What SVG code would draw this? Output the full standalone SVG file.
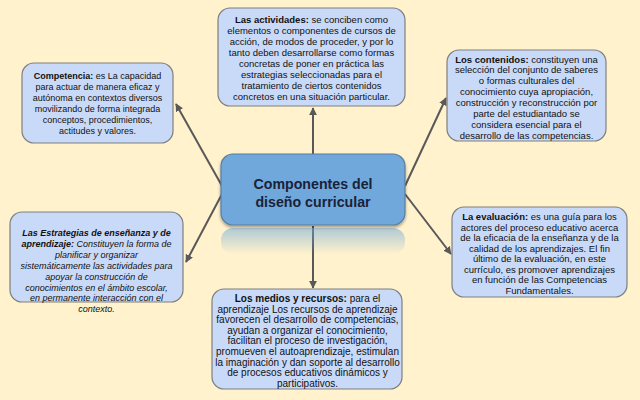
<svg xmlns="http://www.w3.org/2000/svg" width="640" height="400" viewBox="0 0 640 400">
<defs>
<style>
.box{fill:#c9daf8;stroke:#7f7f7f;stroke-width:1.2}
.t{font-family:"Liberation Sans",Arial,sans-serif;font-size:9.5px;fill:#111;text-anchor:middle}
.s9{font-size:9px}
.s10{font-size:10px}
.b{font-weight:bold}
.i{font-style:italic}
.c{stroke:#595959;stroke-width:2;fill:none;marker-end:url(#ah)}
.ct{font-family:"Liberation Sans",Arial,sans-serif;font-size:14.2px;font-weight:bold;fill:#1a2238;text-anchor:middle}
</style>
<marker id="ah" viewBox="0 0 10 10" refX="9" refY="5" markerWidth="4" markerHeight="4" orient="auto" markerUnits="strokeWidth">
<path d="M0,0 L10,5 L0,10 z" fill="#595959"/>
</marker>
<linearGradient id="refl" x1="0" y1="0" x2="0" y2="1">
<stop offset="0" stop-color="#6fa8dc" stop-opacity="0.55"/>
<stop offset="1" stop-color="#6fa8dc" stop-opacity="0"/>
</linearGradient>
<filter id="sh" x="-10%" y="-10%" width="120%" height="130%">
<feDropShadow dx="0" dy="2" stdDeviation="1.5" flood-color="#000" flood-opacity="0.35"/>
</filter>
</defs>
<rect width="640" height="400" fill="#fff2cc"/>

<g id="connectors">
<line class="c" x1="222" y1="186" x2="176" y2="104"/>
<line class="c" x1="313" y1="154" x2="313" y2="108"/>
<line class="c" x1="405" y1="186" x2="446" y2="98"/>
<line class="c" x1="222" y1="194" x2="186" y2="262"/>
<line class="c" x1="405" y1="194" x2="451" y2="254"/>
<line class="c" x1="313" y1="226" x2="313" y2="288"/>
</g>

<g id="center">
<rect x="221" y="228" width="184" height="26" rx="12" fill="url(#refl)"/>
<rect x="221" y="154" width="184" height="71" rx="12" fill="#6fa8dc" stroke="#5b7da0" stroke-width="1.2" filter="url(#sh)"/>
<text class="ct" x="313" y="189">Componentes del</text>
<text class="ct" x="313" y="207">diseño curricular</text>
</g>

<g id="competencia">
<rect class="box" x="22" y="63" width="151" height="80" rx="12"/>
<text class="t s9" x="97.5" y="79"><tspan class="b">Competencia:</tspan> es La capacidad</text>
<text class="t s9" x="97.5" y="90">para actuar de manera eficaz y</text>
<text class="t s9" x="97.5" y="101">autónoma en contextos diversos</text>
<text class="t s9" x="97.5" y="112">movilizando de forma integrada</text>
<text class="t s9" x="97.5" y="123">conceptos, procedimientos,</text>
<text class="t s9" x="97.5" y="134">actitudes y valores.</text>
</g>

<g id="actividades">
<rect class="box" x="218" y="8" width="187" height="98" rx="12"/>
<text class="t" x="311.5" y="23"><tspan class="b">Las actividades:</tspan> se conciben como</text>
<text class="t" x="311.5" y="34">elementos o componentes de cursos de</text>
<text class="t" x="311.5" y="45">acción, de modos de proceder, y por lo</text>
<text class="t" x="311.5" y="56">tanto deben desarrollarse como formas</text>
<text class="t" x="311.5" y="67">concretas de poner en práctica las</text>
<text class="t" x="311.5" y="78">estrategias seleccionadas para el</text>
<text class="t" x="311.5" y="89">tratamiento de ciertos contenidos</text>
<text class="t" x="311.5" y="100">concretos en una situación particular.</text>
</g>

<g id="contenidos">
<rect class="box" x="447" y="50" width="159" height="91" rx="12"/>
<text class="t" x="526.5" y="62.5"><tspan class="b">Los contenidos:</tspan> constituyen una</text>
<text class="t" x="526.5" y="73.4">selección del conjunto de saberes</text>
<text class="t" x="526.5" y="84.3">o formas culturales del</text>
<text class="t" x="526.5" y="95.2">conocimiento cuya apropiación,</text>
<text class="t" x="526.5" y="106.1">construcción y reconstrucción por</text>
<text class="t" x="526.5" y="117">parte del estudiantado se</text>
<text class="t" x="526.5" y="127.9">considera esencial para el</text>
<text class="t" x="526.5" y="138.8">desarrollo de las competencias.</text>
</g>

<g id="estrategias">
<rect class="box" x="10" y="212" width="173" height="90" rx="12"/>
<text class="t s9 i" x="96.5" y="236"><tspan class="b">Las Estrategias de enseñanza y de</tspan></text>
<text class="t s9 i" x="96.5" y="247"><tspan class="b">aprendizaje:</tspan> Constituyen la forma de</text>
<text class="t s9 i" x="96.5" y="258">planificar y organizar</text>
<text class="t s9 i" x="96.5" y="269">sistemáticamente las actividades para</text>
<text class="t s9 i" x="96.5" y="280">apoyar la construcción de</text>
<text class="t s9 i" x="96.5" y="291">conocimientos en el ámbito escolar,</text>
<text class="t s9 i" x="96.5" y="301">en permanente interacción con el</text>
<text class="t s9 i" x="96.5" y="312">contexto.</text>
</g>

<g id="evaluacion">
<rect class="box" x="452" y="207" width="175" height="90" rx="12"/>
<text class="t" x="539.5" y="220"><tspan class="b">La evaluación:</tspan> es una guía para los</text>
<text class="t" x="539.5" y="230.5">actores del proceso educativo acerca</text>
<text class="t" x="539.5" y="241">de la eficacia de la enseñanza y de la</text>
<text class="t" x="539.5" y="251.5">calidad de los aprendizajes. El fin</text>
<text class="t" x="539.5" y="262">último de la evaluación, en este</text>
<text class="t" x="539.5" y="272.5">currículo, es promover aprendizajes</text>
<text class="t" x="539.5" y="283">en función de las Competencias</text>
<text class="t" x="539.5" y="293.5">Fundamentales.</text>
</g>

<g id="medios">
<rect class="box" x="212" y="289" width="190" height="100" rx="12"/>
<text class="t s10" x="307.5" y="302"><tspan class="b">Los medios y recursos:</tspan> para el</text>
<text class="t s10" x="307.5" y="312.6">aprendizaje Los recursos de aprendizaje</text>
<text class="t s10" x="307.5" y="323.2">favorecen el desarrollo de competencias,</text>
<text class="t s10" x="307.5" y="333.8">ayudan a organizar el conocimiento,</text>
<text class="t s10" x="307.5" y="344.4">facilitan el proceso de investigación,</text>
<text class="t s10" x="307.5" y="355">promueven el autoaprendizaje, estimulan</text>
<text class="t s10" x="307.5" y="365.6">la imaginación y dan soporte al desarrollo</text>
<text class="t s10" x="307.5" y="376.2">de procesos educativos dinámicos y</text>
<text class="t s10" x="307.5" y="386.8">participativos.</text>
</g>
</svg>
